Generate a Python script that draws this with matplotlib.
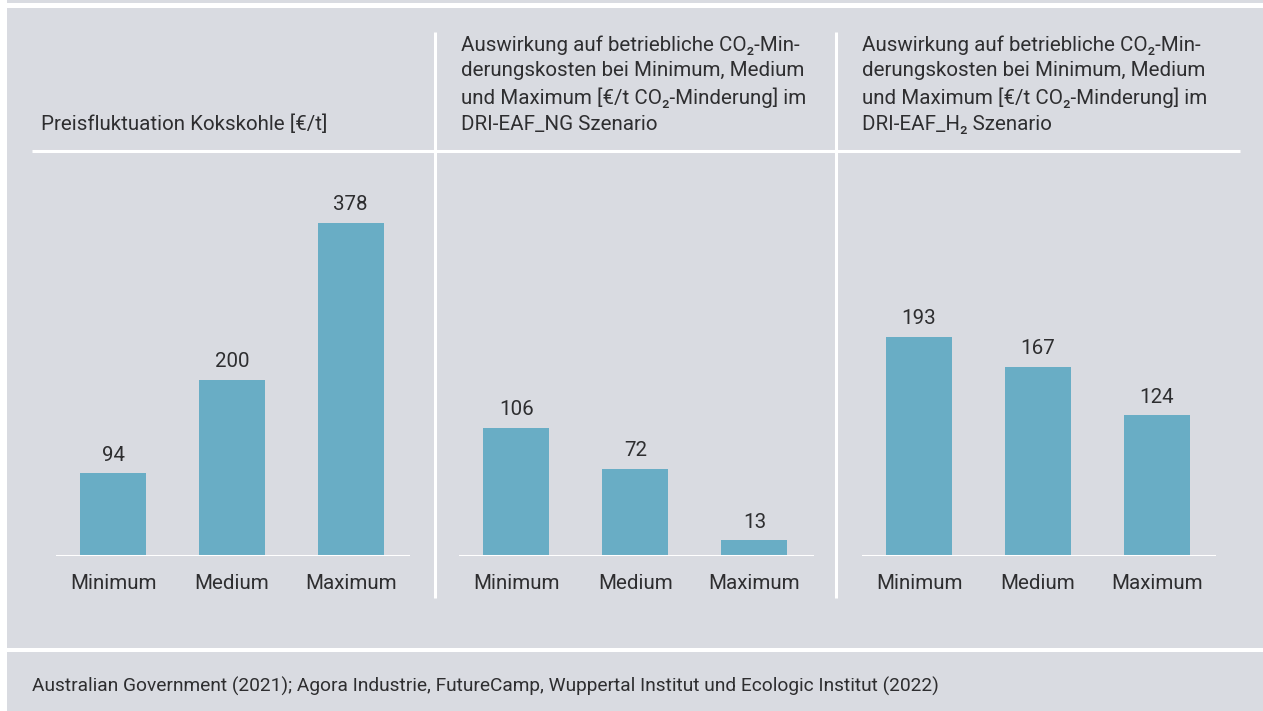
import matplotlib
matplotlib.use("Agg")
import matplotlib.pyplot as plt
from matplotlib.patches import Rectangle
from matplotlib.lines import Line2D

# ---- data ----
categories = ["Minimum", "Medium", "Maximum"]
kokskohle = [94, 200, 378]
dri_ng = [106, 72, 13]
dri_h2 = [193, 167, 124]
titles = [
    "Preisfluktuation Kokskohle [€/t]",
    "Auswirkung auf betriebliche CO₂-Min-\nderungskosten bei Minimum, Medium\nund Maximum [€/t CO₂-Minderung] im\nDRI-EAF_NG Szenario",
    "Auswirkung auf betriebliche CO₂-Min-\nderungskosten bei Minimum, Medium\nund Maximum [€/t CO₂-Minderung] im\nDRI-EAF_H₂ Szenario",
]
source = "Australian Government (2021); Agora Industrie, FutureCamp, Wuppertal Institut und Ecologic Institut (2022)"

W, H = 1263, 711
BG = "#d9dbe1"
BAR = "#69adc5"
TXT = "#2e2e30"
FONT = ["Roboto", "DejaVu Sans"]
plt.rcParams["font.family"] = FONT
FS = 14.8

fig = plt.figure(figsize=(W / 100, H / 100), dpi=100, facecolor="white")


def fx(x):
    return x / W


def fy(y):
    return 1 - y / H


def rect(x0, y0, x1, y1, color):
    fig.add_artist(Rectangle((fx(x0), fy(y1)), fx(x1) - fx(x0), fy(y0) - fy(y1),
                             transform=fig.transFigure, facecolor=color,
                             edgecolor="none", zorder=0))


def line(x0, y0, x1, y1, lw=2.2):
    fig.add_artist(Line2D([fx(x0), fx(x1)], [fy(y0), fy(y1)], transform=fig.transFigure,
                          color="white", lw=lw, zorder=1, solid_capstyle="butt"))


# background blocks
rect(7, 0, W, 3, BG)
rect(7, 8, W, 648, BG)
rect(7, 652, W, H, BG)

# separators
line(32, 151, 1240, 151)
line(435, 32, 435, 598)
line(836, 32, 836, 598)

panels = [
    (kokskohle, 56, 410, 449, 41),
    (dri_ng, 459, 814, 327, 461),
    (dri_h2, 862, 1216, 349, 862),
]

base_y, top_y = 556, 160
for (vals, x0, x1, ytop, tx), title in zip(panels, titles):
    ax = fig.add_axes([fx(x0), fy(base_y), fx(x1) - fx(x0), fy(top_y) - fy(base_y)])
    ax.set_facecolor("none")
    xs = list(range(len(categories)))
    ax.bar(xs, vals, width=0.555, color=BAR, zorder=2)
    ax.set_xlim(-0.48, 2.5)
    ax.set_ylim(0, ytop)
    ax.axhline(0, color="white", lw=2.2, zorder=3)
    for s in ax.spines.values():
        s.set_visible(False)
    ax.set_yticks([])
    ax.set_xticks(xs)
    ax.set_xticklabels(categories, fontsize=FS, color=TXT)
    ax.tick_params(axis="x", length=0, pad=13)
    for x, v in zip(xs, vals):
        ax.annotate(f"{v}", (x, v), xytext=(0, 13), textcoords="offset points",
                    ha="center", va="center", fontsize=FS, color=TXT)
    fig.text(fx(tx), fy(134), title, ha="left", va="bottom", fontsize=FS,
             color=TXT, linespacing=1.45)

fig.text(fx(32), fy(686), source, ha="left", va="center", fontsize=13.8, color=TXT)

fig.savefig("out.png", dpi=100, facecolor="white")
